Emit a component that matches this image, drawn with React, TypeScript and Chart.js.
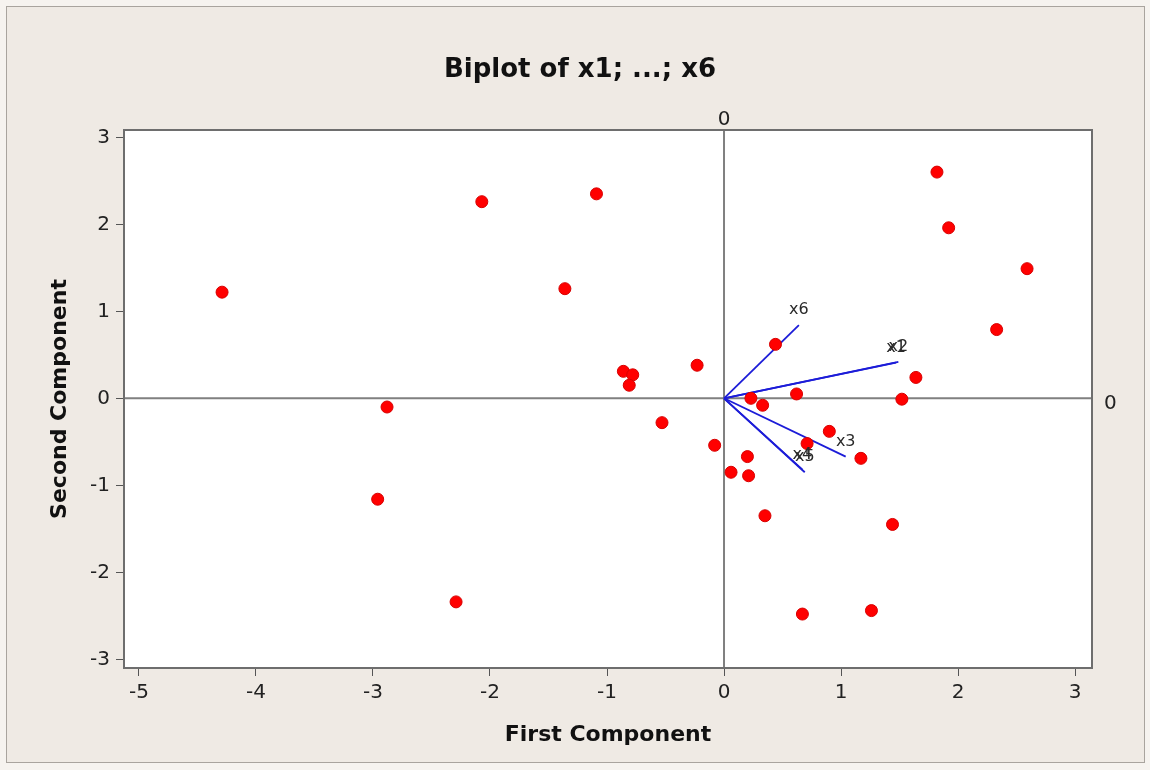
import React, { useEffect, useRef } from 'react';
import { Chart, registerables } from 'chart.js';

Chart.register(...registerables);

// ---- data ----
const xTickValues = [-5, -4, -3, -2, -1, 0, 1, 2, 3];
const yTickValues = [-3, -2, -1, 0, 1, 2, 3];
const refLineValues = [0];
const xRange = [-5.128, 3.145];
const yRange = [-3.1, 3.084];

const scoreX = [
  -4.29, -2.07, -1.09, -1.36, -2.88, -2.96, -2.29, -0.86, -0.78, -0.81, -0.23,
  -0.53, -0.08, 0.06, 0.2, 0.21, 0.35, 0.23, 0.33, 0.44, 0.62, 0.71, 0.9, 1.17,
  0.67, 1.26, 1.44, 1.52, 1.64, 1.82, 1.92, 2.33, 2.59,
];
const scoreY = [
  1.22, 2.26, 2.35, 1.26, -0.1, -1.16, -2.34, 0.31, 0.27, 0.15, 0.38, -0.28,
  -0.54, -0.85, -0.67, -0.89, -1.35, 0.0, -0.08, 0.62, 0.05, -0.52, -0.38,
  -0.69, -2.48, -2.44, -1.45, -0.01, 0.24, 2.6, 1.96, 0.79, 1.49,
];

const vectorNames = ['x1', 'x2', 'x3', 'x4', 'x5', 'x6'];
const vectorX = [1.47, 1.49, 1.04, 0.67, 0.69, 0.64];
const vectorY = [0.41, 0.42, -0.67, -0.82, -0.85, 0.84];

const FONT = "'DejaVu Sans', Verdana, sans-serif";

const framePlugin = {
  id: 'biplotFrame',
  beforeDraw(chart: any) {
    const { ctx, width, height, chartArea } = chart;
    ctx.save();
    ctx.fillStyle = '#f6f3ef';
    ctx.fillRect(0, 0, width, height);
    ctx.fillStyle = '#efeae4';
    ctx.fillRect(6, 6, width - 11, height - 13);
    ctx.strokeStyle = '#a9a49e';
    ctx.lineWidth = 1;
    ctx.strokeRect(6.5, 6.5, width - 12, height - 14);
    ctx.fillStyle = '#ffffff';
    ctx.fillRect(chartArea.left, chartArea.top, chartArea.right - chartArea.left, chartArea.bottom - chartArea.top);
    ctx.restore();
  },
  beforeDatasetsDraw(chart: any) {
    const { ctx, chartArea, scales } = chart;
    ctx.save();
    ctx.strokeStyle = '#808080';
    ctx.lineWidth = 2;
    refLineValues.forEach((v) => {
      const px = scales.x.getPixelForValue(v);
      const py = scales.y.getPixelForValue(v);
      ctx.beginPath();
      ctx.moveTo(px, chartArea.top);
      ctx.lineTo(px, chartArea.bottom);
      ctx.moveTo(chartArea.left, py);
      ctx.lineTo(chartArea.right, py);
      ctx.stroke();
    });
    ctx.restore();
  },
  afterDatasetsDraw(chart: any) {
    const { ctx, chartArea, scales } = chart;
    ctx.save();
    ctx.font = `16px ${FONT}`;
    ctx.fillStyle = '#2a2a2a';
    ctx.textAlign = 'center';
    ctx.textBaseline = 'middle';
    vectorNames.forEach((name, i) => {
      const px = scales.x.getPixelForValue(vectorX[i]);
      const py = scales.y.getPixelForValue(vectorY[i]);
      ctx.fillText(name, px, py - 15);
    });
    ctx.strokeStyle = '#6e6e6e';
    ctx.lineWidth = 2;
    ctx.strokeRect(chartArea.left, chartArea.top, chartArea.right - chartArea.left, chartArea.bottom - chartArea.top);
    ctx.restore();
  },
};

export default function App() {
  const ref = useRef<HTMLCanvasElement | null>(null);

  useEffect(() => {
    if (!ref.current) return;
    const vectorSets = vectorNames.map((name, i) => ({
      type: 'line' as const,
      label: name,
      data: [
        { x: 0, y: 0 },
        { x: vectorX[i], y: vectorY[i] },
      ],
      borderColor: '#1c1cd8',
      borderWidth: 1.8,
      pointRadius: 0,
      fill: false,
      order: 2,
    }));
    const chart = new Chart(ref.current, {
      type: 'scatter',
      data: {
        datasets: [
          {
            label: 'scores',
            data: scoreX.map((x, i) => ({ x, y: scoreY[i] })),
            backgroundColor: '#ff0000',
            borderColor: '#d80000',
            borderWidth: 1,
            pointRadius: 6,
            order: 0,
          },
          ...vectorSets,
        ] as any,
      },
      options: {
        responsive: false,
        animation: false,
        layout: { padding: { left: 10, right: 0, top: 0, bottom: 0 } },
        plugins: {
          legend: { display: false },
          tooltip: { enabled: false },
          title: {
            display: true,
            text: 'Biplot of x1; ...; x6',
            color: '#111111',
            font: { family: FONT, size: 26, weight: 'bold', lineHeight: 1.2 },
            padding: { top: 54.4, bottom: 4.4 },
          },
        },
        scales: {
          x: {
            type: 'linear',
            position: 'bottom',
            min: xRange[0],
            max: xRange[1],
            afterBuildTicks: (s: any) => {
              s.ticks = xTickValues.map((v) => ({ value: v }));
            },
            afterFit: (s: any) => {
              s.height = 102;
            },
            ticks: {
              color: '#222222',
              font: { family: FONT, size: 20, lineHeight: 1.2 },
              padding: 5,
              maxRotation: 0,
              autoSkip: false,
            },
            grid: { drawOnChartArea: false, drawTicks: true, tickLength: 8, color: '#555555', lineWidth: 1 },
            border: { display: false },
            title: {
              display: true,
              text: 'First Component',
              color: '#111111',
              font: { family: FONT, size: 22, weight: 'bold', lineHeight: 1.2 },
              padding: { top: 0, bottom: 22 },
            },
          },
          xTop: {
            type: 'linear',
            position: 'top',
            min: xRange[0],
            max: xRange[1],
            afterBuildTicks: (s: any) => {
              s.ticks = refLineValues.map((v) => ({ value: v }));
            },
            afterFit: (s: any) => {
              s.height = 40;
            },
            ticks: {
              color: '#222222',
              font: { family: FONT, size: 20, lineHeight: 1 },
              padding: 0,
              maxRotation: 0,
              autoSkip: false,
            },
            grid: { display: false, drawTicks: false, drawOnChartArea: false },
            border: { display: false },
          },
          y: {
            type: 'linear',
            position: 'left',
            min: yRange[0],
            max: yRange[1],
            afterBuildTicks: (s: any) => {
              s.ticks = yTickValues.map((v) => ({ value: v }));
            },
            afterFit: (s: any) => {
              s.width = 114;
            },
            ticks: {
              color: '#222222',
              font: { family: FONT, size: 20, lineHeight: 1.2 },
              padding: 6,
              autoSkip: false,
            },
            grid: { drawOnChartArea: false, drawTicks: true, tickLength: 8, color: '#555555', lineWidth: 1 },
            border: { display: false },
            title: {
              display: true,
              text: 'Second Component',
              color: '#111111',
              font: { family: FONT, size: 22, weight: 'bold', lineHeight: 1.2 },
              padding: { top: 37, bottom: 0 },
            },
          },
          yRight: {
            type: 'linear',
            position: 'right',
            min: yRange[0],
            max: yRange[1],
            afterBuildTicks: (s: any) => {
              s.ticks = refLineValues.map((v) => ({ value: v }));
            },
            afterFit: (s: any) => {
              s.width = 58;
            },
            ticks: {
              color: '#222222',
              font: { family: FONT, size: 20, lineHeight: 1.2 },
              padding: 12,
              labelOffset: 5,
              autoSkip: false,
            },
            grid: { display: false, drawTicks: false, drawOnChartArea: false },
            border: { display: false },
          },
        },
      } as any,
      plugins: [framePlugin],
    });
    return () => chart.destroy();
  }, []);

  return (
    <div style={{ position: 'absolute', left: 0, top: 0, width: 1150, height: 770 }}>
      <canvas ref={ref} width={1150} height={770} style={{ display: 'block', width: 1150, height: 770 }} />
    </div>
  );
}
